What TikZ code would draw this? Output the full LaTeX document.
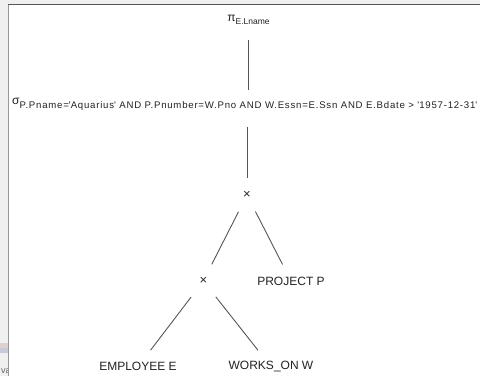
\documentclass[tikz,border=0pt]{standalone}
\usepackage{fontspec}
\setmainfont{Liberation Sans}
\newfontfamily\subfont[LetterSpace=8]{Liberation Sans}
\definecolor{bgout}{HTML}{F0F0F0}
\definecolor{txt}{HTML}{222222}
\definecolor{edge}{HTML}{555555}
\newcommand{\q}{\textquotesingle}
\begin{document}
\begin{tikzpicture}[x=1pt,y=-1pt,
  lab/.style={inner sep=0pt, text=txt, font=\fontsize{12}{14}\selectfont},
  op/.style={inner sep=0pt, text=txt, font=\fontsize{13}{15}\selectfont},
  greek/.style={inner sep=0pt, text=txt, font=\fontsize{12}{14}\selectfont},
  conn/.style={draw=edge, line width=0.9pt}]
\useasboundingbox (0,0) rectangle (480,376);
\fill[bgout] (0,0) rectangle (480,376);
\fill[white] (8.5,4.5) rectangle (480,376);
\draw[color=gray!80, line width=1.5pt] (8.5,4.5) -- (8.5,376);
\draw[color=edge, line width=1.3pt] (8,4.5) -- (480,4.5);
\fill[red!20!gray!30] (0,343) rectangle (7.7,347.5);
\fill[blue!20!gray!35] (0,347.5) rectangle (7.7,353);
\begin{scope}
\clip (0,360) rectangle (7.7,376);
\node[anchor=west, inner sep=0pt, text=txt!70, font=\fontsize{9}{10}\selectfont] (frag) at (1,371) {va};
\end{scope}
\begin{scope}
\clip (9,5) rectangle (480,376);
\node[greek] (pi) at (248.5,20) {π\raisebox{-3pt}{\fontsize{8.5}{10}\selectfont E.Lname}};
\node[greek, anchor=west] (sigma) at (12,104) {σ\raisebox{-4pt}{\subfont\fontsize{9.62}{11}\selectfont P.Pname=\q Aquarius\q{} AND P.Pnumber=W.Pno AND W.Essn=E.Ssn AND E.Bdate > \q 1957-12-31\q}};
\end{scope}
\node[op] (x1) at (247,195) {×};
\node[op] (x2) at (203.3,281) {×};
\node[lab] (proj) at (291,281) {PROJECT P};
\node[lab] (emp) at (138,366.7) {EMPLOYEE E};
\node[lab] (works) at (271,366.7) {WORKS\_ON W};
\draw[conn, shorten <=20pt, shorten >=14pt] (pi.center) -- (pi.center |- sigma.center);
\draw[conn, shorten <=23pt, shorten >=17pt] (x1.center |- sigma.center) -- (x1.center);
\draw[conn, shorten <=18.7pt, shorten >=18.7pt] (x1.center) -- (x2.center);
\draw[conn, shorten <=18.5pt, shorten >=18.5pt] (x1.center) -- (proj.center);
\draw[conn, shorten <=20.2pt, shorten >=20.8pt] (x2.center) -- (emp.center);
\draw[conn, shorten <=20.2pt, shorten >=21pt] (x2.center) -- (works.center);
\end{tikzpicture}
\end{document}
